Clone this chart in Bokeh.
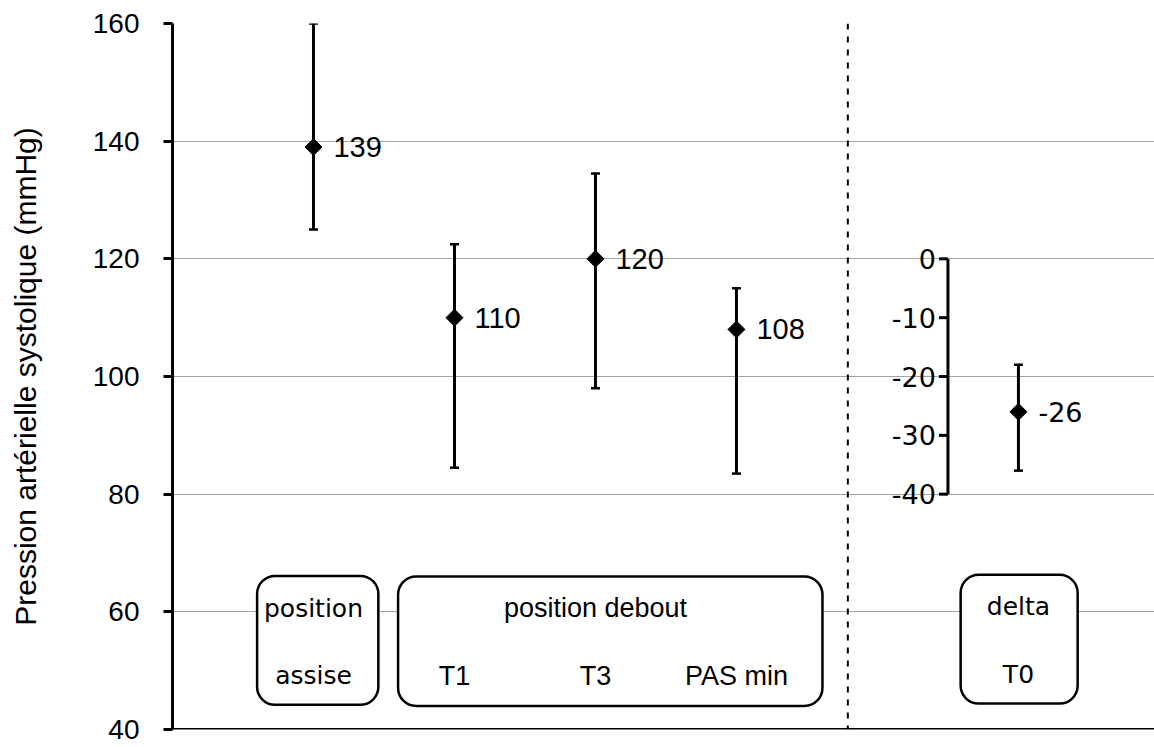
from bokeh.plotting import figure
from bokeh.models import Range1d, Span, ColumnDataSource, FixedTicker, Whisker, TeeHead
from bokeh.core.properties import value
from bokeh.embed import file_html
from bokeh.resources import INLINE

# ---- data ----
categories = ["assise", "T1", "T3", "PAS min"]
positions = [1, 2, 3, 4]
means = [139, 110, 120, 108]
lows = [125, 84.5, 98, 83.5]
highs = [160, 122.5, 134.5, 115]
mean_labels = ["139", "110", "120", "108"]

delta_categories = ["T0"]
delta_positions = [6]
delta_means = [-26]
delta_lows = [-36]
delta_highs = [-18]
delta_labels = ["-26"]

y_ticks = [40, 60, 80, 100, 120, 140, 160]
grid_ticks = [60, 80, 100, 120, 140, 160]
delta_ticks = [0, -10, -20, -30, -40]
delta_tick_labels = ["0", "-10", "-20", "-30", "-40"]

# ---- figure ----
p = figure(width=1154, height=747,
           x_range=Range1d(0, 6.965), y_range=Range1d(40, 160),
           output_backend="svg", toolbar_location=None,
           min_border_left=172, min_border_right=0,
           min_border_top=23, min_border_bottom=18)
p.extra_y_ranges = {"delta": Range1d(-80, 40)}
p.outline_line_color = None
p.background_fill_color = "white"
p.xaxis.visible = False
p.xgrid.visible = False
p.ygrid.ticker = FixedTicker(ticks=grid_ticks)
p.ygrid.grid_line_color = "#a3a3a3"
p.ygrid.grid_line_width = 1

ax = p.yaxis[0]
ax.ticker = FixedTicker(ticks=y_ticks)
ax.axis_line_width = 3
ax.axis_line_color = "black"
ax.major_tick_line_width = 3
ax.major_tick_line_color = "black"
ax.major_tick_in = 0
ax.major_tick_out = 9
ax.minor_tick_line_color = None
ax.major_label_text_font = "Liberation Sans"
ax.major_label_text_font_size = "28px"
ax.major_label_text_color = "black"
ax.major_label_standoff = 24
ax.axis_label = "Pression artérielle systolique (mmHg)"
ax.axis_label_text_font = "Liberation Sans"
ax.axis_label_text_font_size = "30px"
ax.axis_label_text_font_style = "normal"
ax.axis_label_text_color = "black"
ax.axis_label_standoff = 48

# bottom axis line and separator
p.add_layout(Span(location=40, dimension="width", line_color="black", line_width=3))
p.add_layout(Span(location=4.79, dimension="height", line_color="black",
                  line_width=2, line_dash="6 7"))

# ---- category boxes ----
box_src = ColumnDataSource(dict(
    left=[0.60, 1.60, 5.59], right=[1.46, 4.61, 6.42],
    top=[66.1, 66.0, 66.3], bottom=[44.2, 44.0, 44.4]))
p.quad(left="left", right="right", top="top", bottom="bottom", source=box_src,
       fill_color="white", line_color="black", line_width=2.5, border_radius=18)

# box texts
p.text(x=[positions[0]], y=[60.6], text=["position"], text_align="center",
       text_baseline="middle", text_font=value("DejaVu Sans"), text_font_size="25px")
p.text(x=[positions[0]], y=[49.1], text=[categories[0]], text_align="center",
       text_baseline="middle", text_font=value("DejaVu Sans"), text_font_size="25px")
p.text(x=[positions[2]], y=[60.6], text=["position debout"], text_align="center",
       text_baseline="middle", text_font=value("Liberation Sans"), text_font_size="27px")
p.text(x=positions[1:], y=[49.1] * 3, text=categories[1:], text_align="center",
       text_baseline="middle", text_font=value("Liberation Sans"), text_font_size="27px")
p.text(x=delta_positions, y=[60.9], text=["delta"], text_align="center",
       text_baseline="middle", text_font=value("DejaVu Sans"), text_font_size="25px")
p.text(x=delta_positions, y=[49.4], text=delta_categories, text_align="center",
       text_baseline="middle", text_font=value("DejaVu Sans"), text_font_size="25px")

# ---- primary series ----
src = ColumnDataSource(dict(x=positions, y=means, lo=lows, hi=highs, lab=mean_labels))
p.add_layout(Whisker(base="x", upper="hi", lower="lo", source=src,
                     line_width=3, line_color="black",
                     upper_head=TeeHead(size=9, line_width=2.5, line_color="black"),
                     lower_head=TeeHead(size=9, line_width=2.5, line_color="black"),
                     level="glyph"))
p.scatter("x", "y", source=src, marker="square", angle=0.785398, size=12,
          color="black")
p.text("x", "y", text="lab", source=src, x_offset=20, text_baseline="middle",
       text_font=value("Liberation Sans"), text_font_size="29px", text_color="black")

# ---- delta series on secondary scale ----
axis_x = 5.5
tick_len = 9 / 141.0
p.segment(x0=[axis_x], y0=[delta_ticks[0]], x1=[axis_x], y1=[delta_ticks[-1]],
          line_width=3, line_color="black", y_range_name="delta")
p.segment(x0=[axis_x - tick_len] * len(delta_ticks), y0=delta_ticks,
          x1=[axis_x] * len(delta_ticks), y1=delta_ticks,
          line_width=3, line_color="black", y_range_name="delta")
p.text(x=[axis_x] * len(delta_ticks), y=delta_ticks, text=delta_tick_labels,
       x_offset=-12, text_align="right", text_baseline="middle",
       text_font=value("DejaVu Sans"), text_font_size="27px", text_color="black",
       y_range_name="delta")

dsrc = ColumnDataSource(dict(x=delta_positions, y=delta_means, lo=delta_lows,
                             hi=delta_highs, lab=delta_labels))
p.add_layout(Whisker(base="x", upper="hi", lower="lo", source=dsrc,
                     y_range_name="delta", line_width=3, line_color="black",
                     upper_head=TeeHead(size=9, line_width=2.5, line_color="black"),
                     lower_head=TeeHead(size=9, line_width=2.5, line_color="black"),
                     level="glyph"))
p.scatter("x", "y", source=dsrc, marker="square", angle=0.785398, size=12,
          color="black", y_range_name="delta")
p.text("x", "y", text="lab", source=dsrc, x_offset=20, text_baseline="middle",
       text_font=value("DejaVu Sans"), text_font_size="27px", text_color="black",
       y_range_name="delta")

open("out.html", "w").write(file_html(p, INLINE))
